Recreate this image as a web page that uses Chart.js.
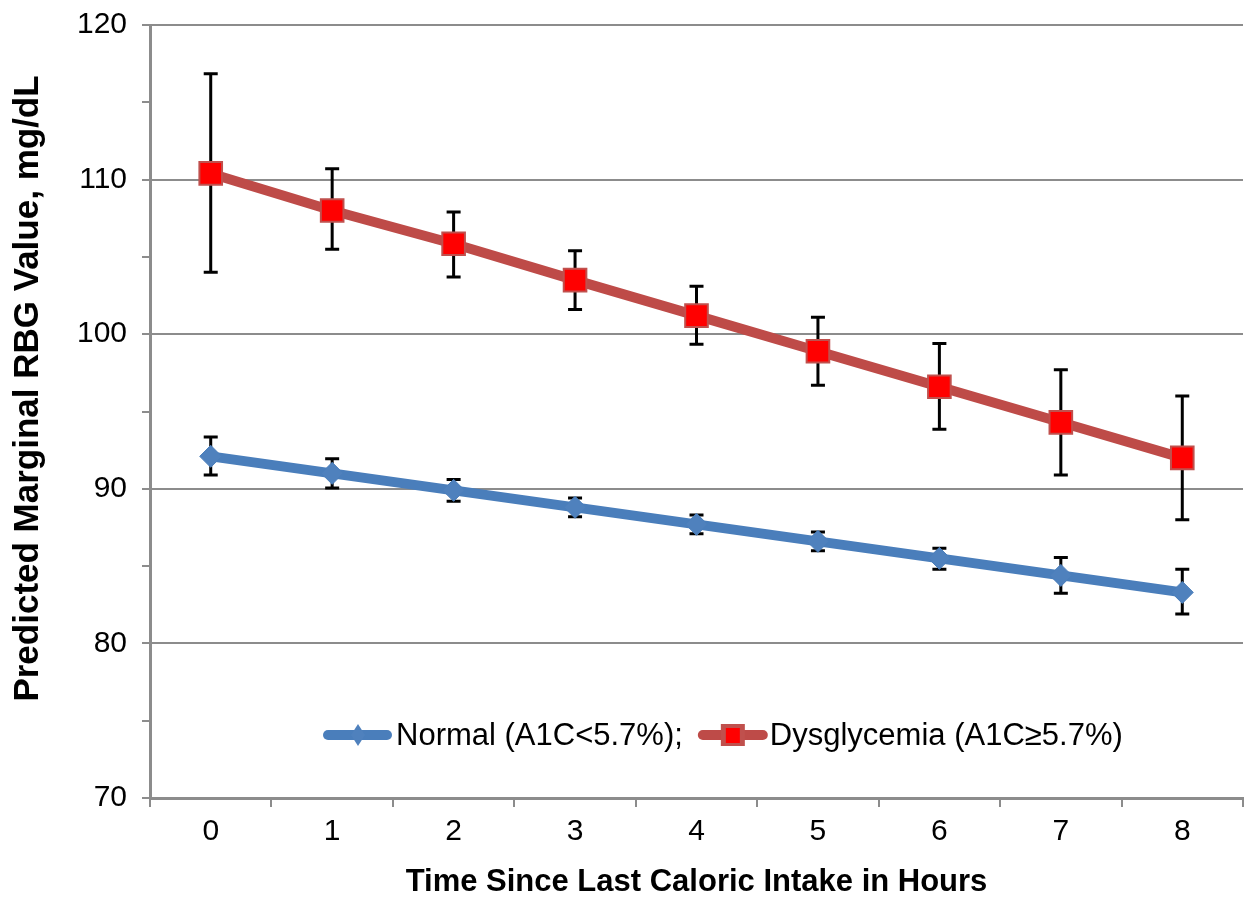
<!DOCTYPE html>
<html>
<head>
<meta charset="utf-8">
<script src="https://cdn.jsdelivr.net/npm/chart.js@4/dist/chart.umd.min.js"></script>
<style>
html,body{margin:0;padding:0;background:#fff;}
#wrap{width:1247px;height:898px;position:relative;}
</style>
</head>
<body>
<div id="wrap"><canvas id="c" width="1247" height="898"></canvas></div>
<script>
// ---- data ----
const hours = ['0','1','2','3','4','5','6','7','8'];
const normalLabel = 'Normal (A1C<5.7%);';
const dysLabel = 'Dysglycemia (A1C\u22655.7%)';
const normalMean = [92.1, 91.0, 89.9, 88.8, 87.7, 86.6, 85.5, 84.4, 83.3];
const normalLow  = [90.9, 90.05, 89.2, 88.2, 87.1, 86.0, 84.8, 83.25, 81.9];
const normalHigh = [93.35, 91.95, 90.6, 89.4, 88.3, 87.2, 86.15, 85.55, 84.8];
const dysMean = [110.4, 108.0, 105.85, 103.5, 101.2, 98.9, 96.6, 94.3, 92.0];
const dysLow  = [104.0, 105.5, 103.7, 101.6, 99.35, 96.7, 93.85, 90.9, 88.0];
const dysHigh = [116.85, 110.7, 107.9, 105.4, 103.1, 101.1, 99.4, 97.7, 96.0];
const yTitle = 'Predicted Marginal RBG Value, mg/dL';
const xTitle = 'Time Since Last Caloric Intake in Hours';

const FONT = "'Liberation Sans', Arial, sans-serif";
const BLUE_LINE = '#4a7ebb', BLUE_FILL = '#4f81bd';
const RED_LINE = '#be4b48', RED_FILL = '#ff0000', RED_BORDER = '#c0504d';
const GRID = '#8c8c8c';

const errorBars = {
  id: 'errorBars',
  beforeDatasetsDraw(chart) {
    const ctx = chart.ctx;
    const xs = chart.scales.x, ys = chart.scales.y;
    const sets = [[normalLow, normalHigh], [dysLow, dysHigh]];
    ctx.save();
    ctx.strokeStyle = '#000';
    ctx.lineWidth = 3;
    sets.forEach(([lo, hi]) => {
      lo.forEach((l, i) => {
        const x = xs.getPixelForValue(i);
        const y1 = ys.getPixelForValue(l), y2 = ys.getPixelForValue(hi[i]);
        ctx.beginPath();
        ctx.moveTo(x, y1); ctx.lineTo(x, y2);
        ctx.moveTo(x - 7, y1); ctx.lineTo(x + 7, y1);
        ctx.moveTo(x - 7, y2); ctx.lineTo(x + 7, y2);
        ctx.stroke();
      });
    });
    ctx.restore();
  }
};

const yTitlePlugin = {
  id: 'yTitlePlugin',
  afterDraw(chart) {
    const ctx = chart.ctx, a = chart.chartArea;
    ctx.save();
    ctx.font = 'bold 35px ' + FONT;
    ctx.fillStyle = '#000';
    ctx.textAlign = 'center';
    ctx.textBaseline = 'middle';
    ctx.translate(a.left - 122, (a.top + a.bottom) / 2 - 23);
    ctx.rotate(-Math.PI / 2);
    ctx.fillText(yTitle, 0, 0);
    ctx.restore();
  }
};

const customLegend = {
  id: 'customLegend',
  afterDraw(chart) {
    const ctx = chart.ctx, a = chart.chartArea;
    const y = a.bottom - 63;
    ctx.save();
    ctx.font = '31px ' + FONT;
    ctx.textBaseline = 'middle';
    let x = a.left + 173;
    // blue sample
    ctx.strokeStyle = BLUE_LINE; ctx.lineWidth = 10; ctx.lineCap = 'round';
    ctx.beginPath(); ctx.moveTo(x + 5, y); ctx.lineTo(x + 64, y); ctx.stroke();
    ctx.fillStyle = BLUE_FILL;
    ctx.beginPath();
    ctx.moveTo(x + 35, y - 11); ctx.lineTo(x + 42, y); ctx.lineTo(x + 35, y + 11); ctx.lineTo(x + 28, y);
    ctx.closePath(); ctx.fill();
    ctx.fillStyle = '#000';
    x += 73;
    ctx.fillText(normalLabel, x, y + 1);
    x += ctx.measureText(normalLabel).width + 15;
    // red sample
    ctx.strokeStyle = RED_LINE; ctx.lineWidth = 10; ctx.lineCap = 'round';
    ctx.beginPath(); ctx.moveTo(x + 5, y); ctx.lineTo(x + 65, y); ctx.stroke();
    ctx.fillStyle = RED_BORDER;
    ctx.fillRect(x + 23, y - 11, 24, 22);
    ctx.fillStyle = RED_FILL;
    ctx.fillRect(x + 28, y - 7, 14, 15);
    ctx.fillStyle = '#000';
    x += 72;
    ctx.fillText(dysLabel, x, y + 1);
    ctx.restore();
  }
};

new Chart(document.getElementById('c'), {
  type: 'line',
  data: {
    labels: hours,
    datasets: [
      {
        label: normalLabel, data: normalMean,
        borderColor: BLUE_LINE, borderWidth: 10,
        pointStyle: 'rectRot', pointRadius: 11,
        pointBackgroundColor: BLUE_FILL, pointBorderColor: BLUE_LINE, pointBorderWidth: 1,
        tension: 0, order: 2
      },
      {
        label: dysLabel, data: dysMean,
        borderColor: RED_LINE, borderWidth: 10,
        pointStyle: 'rect', pointRadius: 16,
        pointBackgroundColor: RED_FILL, pointBorderColor: RED_BORDER, pointBorderWidth: 2,
        tension: 0, order: 1
      }
    ]
  },
  options: {
    responsive: false,
    animation: false,
    events: [],
    layout: { autoPadding: false, padding: { left: 8, right: 4, top: 25, bottom: 0 } },
    plugins: {
      legend: { display: false },
      tooltip: { enabled: false },
      title: { display: false }
    },
    scales: {
      x: {
        type: 'category',
        offset: true,
        afterFit: s => { s.paddingLeft = 0; s.paddingRight = 0; s.height = 100; },
        border: { display: true, color: GRID, width: 3 },
        grid: { offset: true, drawOnChartArea: false, drawTicks: true, tickLength: 9, color: GRID, lineWidth: 2 },
        ticks: { color: '#000', font: { family: FONT, size: 30 }, padding: 7 },
        title: { display: true, text: xTitle, color: '#000', font: { family: FONT, size: 31, weight: 'bold', lineHeight: 1.032 }, padding: { top: 16, bottom: 0 } }
      },
      y: {
        min: 70, max: 120,
        afterFit: s => { s.paddingTop = 0; s.paddingBottom = 0; s.width = 142; },
        border: { display: true, color: GRID, width: 3 },
        grid: {
          color: c => (c.tick && c.tick.value % 10 === 0) ? GRID : 'rgba(0,0,0,0)',
          tickColor: GRID, lineWidth: 2, tickLength: 8
        },
        ticks: {
          stepSize: 5, color: '#000', font: { family: FONT, size: 30 }, padding: 15,
          autoSkip: false,
          callback: v => (v % 10 === 0 ? String(v) : '')
        },
        title: { display: false }
      }
    }
  },
  plugins: [errorBars, yTitlePlugin, customLegend]
});
</script>
</body>
</html>
